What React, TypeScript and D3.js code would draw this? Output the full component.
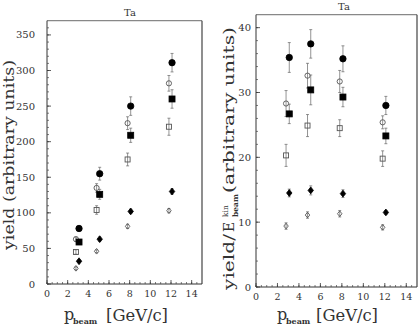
import React from "react";
import * as d3 from "d3";

// beam momenta (GeV/c), filled and open symbols are drawn slightly apart
const pFilled = [3.1, 5.1, 8.1, 12.1];
const pOpen = [2.8, 4.8, 7.8, 11.8];

// left panel: yield (arbitrary units)
const yieldFilledCircle = [78, 155, 250, 311];
const yieldOpenCircle = [63, 135, 226, 282];
const yieldFilledSquare = [59, 126, 209, 260];
const yieldOpenSquare = [45, 104, 175, 221];
const yieldFilledDiamond = [32, 63, 102, 130];
const yieldOpenDiamond = [22, 46, 81, 103];
const yieldErrFilledCircle = [4, 9, 13, 13];
const yieldErrOpenCircle = [3, 6, 9, 11];
const yieldErrFilledSquare = [3, 7, 10, 13];
const yieldErrOpenSquare = [3, 6, 9, 12];
const yieldErrFilledDiamond = [2, 3, 3, 4];
const yieldErrOpenDiamond = [2, 2, 3, 3];

// right panel: yield / E_kin
const normFilledCircle = [35.4, 37.5, 35.2, 28.0];
const normOpenCircle = [28.3, 32.6, 31.7, 25.4];
const normFilledSquare = [26.7, 30.4, 29.3, 23.3];
const normOpenSquare = [20.3, 24.9, 24.5, 19.8];
const normFilledDiamond = [14.5, 14.9, 14.4, 11.5];
const normOpenDiamond = [9.4, 11.1, 11.3, 9.2];
const normErrFilledCircle = [2.3, 2.2, 2.0, 1.4];
const normErrOpenCircle = [2.0, 1.9, 1.7, 1.0];
const normErrFilledSquare = [1.5, 2.3, 1.5, 1.2];
const normErrOpenSquare = [1.7, 1.7, 1.3, 1.2];
const normErrFilledDiamond = [0.6, 0.7, 0.6, 0.3];
const normErrOpenDiamond = [0.5, 0.5, 0.5, 0.4];

const xTicks = [0, 2, 4, 6, 8, 10, 12, 14];
const leftYTicks = [0, 50, 100, 150, 200, 250, 300, 350];
const rightYTicks = [0, 10, 20, 30, 40];

const serif = "'DejaVu Serif', serif";
const ink = "#333";

type Series = { x: number[]; y: number[]; err: number[]; shape: string; filled: boolean };

const Marker = ({ shape, filled, cx, cy }: { shape: string; filled: boolean; cx: number; cy: number }) => {
  const fill = filled ? "#000" : "none";
  const stroke = filled ? "#000" : "#555";
  const sw = filled ? 0.8 : 0.9;
  if (shape === "circle") {
    return <circle cx={cx} cy={cy} r={filled ? 3.2 : 2.6} fill={fill} stroke={stroke} strokeWidth={sw} />;
  }
  if (shape === "square") {
    const s = filled ? 6 : 5;
    return <rect x={cx - s / 2} y={cy - s / 2} width={s} height={s} fill={fill} stroke={stroke} strokeWidth={sw} />;
  }
  const r = filled ? 3.4 : 2.8;
  return (
    <path
      d={`M${cx},${cy - r}L${cx + r * 0.8},${cy}L${cx},${cy + r}L${cx - r * 0.8},${cy}Z`}
      fill={fill}
      stroke={stroke}
      strokeWidth={sw}
    />
  );
};

const Panel = ({
  x0, x1, yTop, yBottom, yMax, yTicks, yMinor, series, title, titleX, titleY, tickLabelX,
}: {
  x0: number; x1: number; yTop: number; yBottom: number; yMax: number;
  yTicks: number[]; yMinor: number; series: Series[]; title: string;
  titleX: number; titleY: number; tickLabelX: number;
}) => {
  const x = d3.scaleLinear().domain([0, 15]).range([x0, x1]);
  const y = d3.scaleLinear().domain([0, yMax]).range([yBottom, yTop]);
  const xMinor = d3.range(0, 15, 0.5);
  const yMinorTicks = d3.range(0, yMax, yMinor);
  return (
    <g>
      <text x={titleX} y={titleY} fontFamily={serif} fontSize={10} fill={ink} textAnchor="middle">
        {title}
      </text>
      {/* frame */}
      <line x1={x0} y1={yTop} x2={x1} y2={yTop} stroke="#888" strokeWidth={1.2} />
      <line x1={x1} y1={yTop} x2={x1} y2={yBottom} stroke="#444" strokeWidth={1.2} />
      <line x1={x0} y1={yTop} x2={x0} y2={yBottom} stroke="#333" strokeWidth={1} />
      <line x1={x0} y1={yBottom} x2={x1} y2={yBottom} stroke="#333" strokeWidth={1} />
      {/* x ticks */}
      {xMinor.map((t) => (
        <line key={"xm" + t} x1={x(t)} x2={x(t)} y1={yBottom} y2={yBottom - 2} stroke="#444" strokeWidth={0.7} />
      ))}
      {xTicks.map((t) => (
        <g key={"x" + t}>
          <line x1={x(t)} x2={x(t)} y1={yBottom} y2={yBottom - 4} stroke="#333" strokeWidth={0.8} />
          <text x={x(t)} y={yBottom + 13} fontFamily={serif} fontSize={9.5} fill={ink} textAnchor="middle">
            {t}
          </text>
        </g>
      ))}
      {/* y ticks */}
      {yMinorTicks.map((t) => (
        <line key={"ym" + t} x1={x0} x2={x0 + 2} y1={y(t)} y2={y(t)} stroke="#444" strokeWidth={0.7} />
      ))}
      {yTicks.map((t) => (
        <g key={"y" + t}>
          <line x1={x0} x2={x0 + 4} y1={y(t)} y2={y(t)} stroke="#333" strokeWidth={0.8} />
          <text x={tickLabelX} y={y(t) + 3.5} fontFamily={serif} fontSize={10} fill={ink} textAnchor="end">
            {t}
          </text>
        </g>
      ))}
      {/* data */}
      {series.map((s, i) => (
        <g key={"s" + i}>
          {s.y.map((v, j) => {
            const cx = x(s.x[j]);
            const lo = y(v - s.err[j]);
            const hi = y(v + s.err[j]);
            return (
              <g key={j}>
                <line x1={cx} x2={cx} y1={lo} y2={hi} stroke="#666" strokeWidth={0.7} />
                <line x1={cx - 1.5} x2={cx + 1.5} y1={lo} y2={lo} stroke="#666" strokeWidth={0.7} />
                <line x1={cx - 1.5} x2={cx + 1.5} y1={hi} y2={hi} stroke="#666" strokeWidth={0.7} />
                <Marker shape={s.shape} filled={s.filled} cx={cx} cy={y(v)} />
              </g>
            );
          })}
        </g>
      ))}
    </g>
  );
};

const leftSeries: Series[] = [
  { x: pFilled, y: yieldFilledCircle, err: yieldErrFilledCircle, shape: "circle", filled: true },
  { x: pOpen, y: yieldOpenCircle, err: yieldErrOpenCircle, shape: "circle", filled: false },
  { x: pFilled, y: yieldFilledSquare, err: yieldErrFilledSquare, shape: "square", filled: true },
  { x: pOpen, y: yieldOpenSquare, err: yieldErrOpenSquare, shape: "square", filled: false },
  { x: pFilled, y: yieldFilledDiamond, err: yieldErrFilledDiamond, shape: "diamond", filled: true },
  { x: pOpen, y: yieldOpenDiamond, err: yieldErrOpenDiamond, shape: "diamond", filled: false },
];

const rightSeries: Series[] = [
  { x: pFilled, y: normFilledCircle, err: normErrFilledCircle, shape: "circle", filled: true },
  { x: pOpen, y: normOpenCircle, err: normErrOpenCircle, shape: "circle", filled: false },
  { x: pFilled, y: normFilledSquare, err: normErrFilledSquare, shape: "square", filled: true },
  { x: pOpen, y: normOpenSquare, err: normErrOpenSquare, shape: "square", filled: false },
  { x: pFilled, y: normFilledDiamond, err: normErrFilledDiamond, shape: "diamond", filled: true },
  { x: pOpen, y: normOpenDiamond, err: normErrOpenDiamond, shape: "diamond", filled: false },
];

const XLabel = ({ px, bx }: { px: number; bx: number }) => (
  <g fontFamily={serif} fill={ink}>
    <text x={px} y={320} fontSize={16}>p</text>
    <text x={px + 9} y={323.5} fontSize={8} fontWeight="bold">beam</text>
    <text x={bx} y={321} fontSize={17} textLength={62} lengthAdjust="spacingAndGlyphs">[GeV/c]</text>
  </g>
);

export default function App() {
  return (
    <svg width={419} height={327} style={{ position: "absolute", left: 0, top: 0, background: "#fff" }}>
      <Panel
        x0={47} x1={202} yTop={20.7} yBottom={284} yMax={370}
        yTicks={leftYTicks} yMinor={10} series={leftSeries}
        title="Ta" titleX={130} titleY={16} tickLabelX={35}
      />
      <Panel
        x0={256} x1={417} yTop={14.7} yBottom={287} yMax={42}
        yTicks={rightYTicks} yMinor={2} series={rightSeries}
        title="Ta" titleX={344} titleY={9.5} tickLabelX={251}
      />
      <XLabel px={64} bx={106} />
      <XLabel px={277} bx={316} />
      {/* left y label */}
      <g transform="translate(14, 250) rotate(-90)" fontFamily={serif} fill={ink}>
        <text x={0} y={0} fontSize={14} textLength={190} lengthAdjust="spacingAndGlyphs">
          yield (arbitrary units)
        </text>
      </g>
      {/* right y label */}
      <g transform="translate(234, 290) rotate(-90)" fontFamily={serif} fill={ink}>
        <text x={0} y={0} fontSize={14} textLength={56} lengthAdjust="spacingAndGlyphs">yield/</text>
        <text x={58} y={0} fontSize={14}>E</text>
        <text x={73} y={-6} fontSize={7.5}>kin</text>
        <text x={73} y={4} fontSize={7.5} fontWeight="bold">beam</text>
        <text x={97} y={0} fontSize={14} textLength={166} lengthAdjust="spacingAndGlyphs">
          (arbitrary units)
        </text>
      </g>
    </svg>
  );
}
